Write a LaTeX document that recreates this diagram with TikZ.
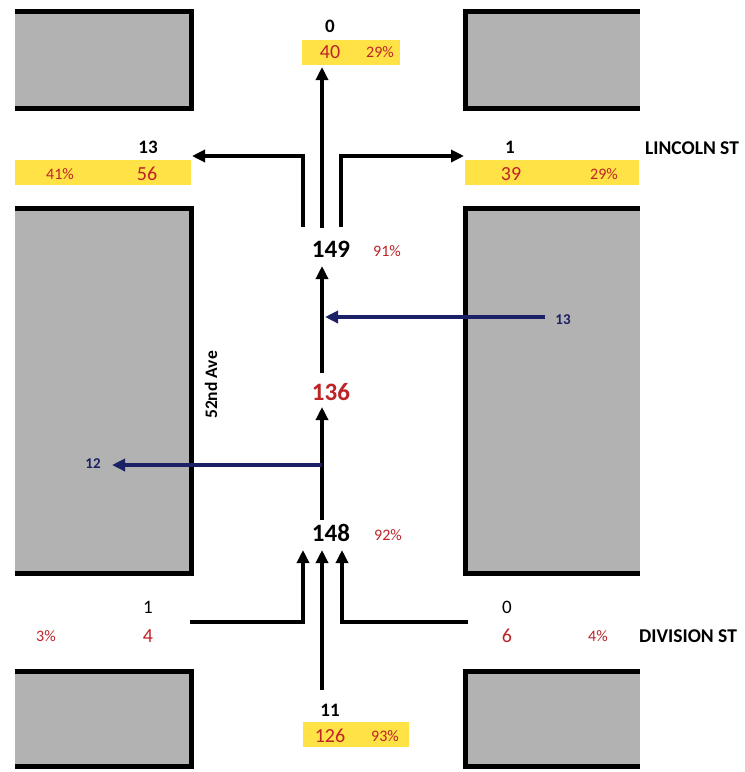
\documentclass[tikz,border=0pt]{standalone}
\usepackage{fontspec}
\setmainfont{Carlito}
\usetikzlibrary{arrows.meta}
\definecolor{yel}{RGB}{255,226,70}
\definecolor{rtx}{RGB}{190,35,40}
\definecolor{navy}{RGB}{28,32,100}
\definecolor{blockgray}{RGB}{178,178,178}
\begin{document}
\begin{tikzpicture}[x=1pt,y=-1pt,
  blockfill/.style={fill=blockgray},
  edge/.style={line width=5pt, line join=miter},
  flow/.style={line width=4pt, line join=miter, -{Triangle[length=13pt,width=12pt]}},
  bflow/.style={flow, draw=navy},
  tot/.style={font=\bfseries\fontsize{25}{25}\selectfont, inner sep=0pt},
  cnt/.style={font=\fontsize{20}{20}\selectfont, text=rtx, inner sep=0pt},
  pct/.style={font=\fontsize{16}{16}\selectfont, text=rtx, inner sep=0pt},
  num/.style={font=\bfseries\fontsize{19}{19}\selectfont, inner sep=0pt},
  numr/.style={font=\fontsize{19}{19}\selectfont, inner sep=0pt},
  street/.style={font=\bfseries\fontsize{19.5}{19.5}\selectfont, inner sep=0pt},
  bnum/.style={font=\bfseries\fontsize{15}{15}\selectfont, text=navy, inner sep=0pt},
  bar/.style={fill=yel, draw=none, inner sep=0pt, minimum height=25pt}
]
\useasboundingbox (0,0) rectangle (745,772);
\fill[white] (0,0) rectangle (745,772);

% blocks
\fill[blockfill] (15,11) rectangle (191,108);
\draw[edge] (15,11) -- (191,11) -- (191,108) -- (15,108);
\fill[blockfill] (465,11) rectangle (640,108);
\draw[edge] (640,11) -- (465,11) -- (465,108) -- (640,108);
\fill[blockfill] (15,208) rectangle (191,573);
\draw[edge] (15,208) -- (191,208) -- (191,573) -- (15,573);
\fill[blockfill] (465,208) rectangle (640,573);
\draw[edge] (640,208) -- (465,208) -- (465,573) -- (640,573);
\fill[blockfill] (15,671) rectangle (191,766);
\draw[edge] (15,671) -- (191,671) -- (191,766) -- (15,766);
\fill[blockfill] (465,671) rectangle (640,766);
\draw[edge] (640,671) -- (465,671) -- (465,766) -- (640,766);

% yellow bars
\node[bar, minimum width=98pt] (barN) at (351,52) {};
\node[bar, minimum width=176pt] (barW) at (103,172) {};
\node[bar, minimum width=174pt] (barE) at (552,172) {};
\node[bar, minimum width=106pt] (barS) at (356,734) {};

% top labels
\node[num] (n0) at (330,26) {0};
\node[cnt] (n40) at (330,52) {40};
\node[pct] (n40p) at (380,52) {29\%};
\node[num] (w13) at (148,147) {13};
\node[pct] (w41p) at (60,174) {41\%};
\node[cnt] (w56) at (147,174) {56};
\node[num] (e1) at (510,147) {1};
\node[cnt] (e39) at (511,174) {39};
\node[pct] (e29p) at (604,174) {29\%};
\node[street] (lincoln) at (692,148) {LINCOLN ST};

% totals
\node[tot] (t149) at (331,249) {149};
\node[pct] (t149p) at (387,251) {91\%};
\node[tot, text=rtx] (t136) at (331,392) {136};
\node[tot] (t148) at (331,533) {148};
\node[pct] (t148p) at (388,535) {92\%};

\node[street, font=\bfseries\fontsize{17.5}{17.5}\selectfont, rotate=90] (ave) at (211,385) {52nd Ave};

\node[bnum] (b13) at (563,320) {13};
\node[bnum] (b12) at (93,464) {12};

% bottom labels
\node[numr] (sw1) at (148,607) {1};
\node[pct] (sw3p) at (46,636) {3\%};
\node[cnt] (sw4) at (148,636) {4};
\node[numr] (se0) at (507,607) {0};
\node[cnt] (se6) at (507,636) {6};
\node[pct] (se4p) at (598,636) {4\%};
\node[street] (division) at (688,636) {DIVISION ST};
\node[num] (s11) at (330,710) {11};
\node[cnt] (s126) at (330,736) {126};
\node[pct] (s93p) at (385,736) {93\%};

% coordinates for connectors
\coordinate (topC0) at (322,228);
\coordinate (topC1) at (322,67);
\coordinate (topL0) at (303,227);
\coordinate (topL1) at (192,156);
\coordinate (topR0) at (341,227);
\coordinate (topR1) at (464,156);
\coordinate (m1a) at (322,373);
\coordinate (m1b) at (322,266);
\coordinate (bE0) at (545,317);
\coordinate (bE1) at (325,317);
\coordinate (m2a) at (322,520);
\coordinate (m2b) at (322,407);
\coordinate (bW0) at (322,465);
\coordinate (bW1) at (112,465);
\coordinate (botC0) at (322,690);
\coordinate (botC1) at (322,550);
\coordinate (botL0) at (190,622);
\coordinate (botL1) at (303,550);
\coordinate (botR0) at (468,622);
\coordinate (botR1) at (342,550);

% black flows
\draw[flow] (topC0) -- (topC1);
\draw[flow] (topL0) |- (topL1);
\draw[flow] (topR0) |- (topR1);
\draw[flow] (m1a) -- (m1b);
\draw[flow] (m2a) -- (m2b);
\draw[flow] (botC0) -- (botC1);
\draw[flow] (botL0) -| (botL1);
\draw[flow] (botR0) -| (botR1);

% blue flows
\draw[bflow] (bE0) -- (bE1);
\draw[bflow] (bW0) -- (bW1);
\end{tikzpicture}
\end{document}
